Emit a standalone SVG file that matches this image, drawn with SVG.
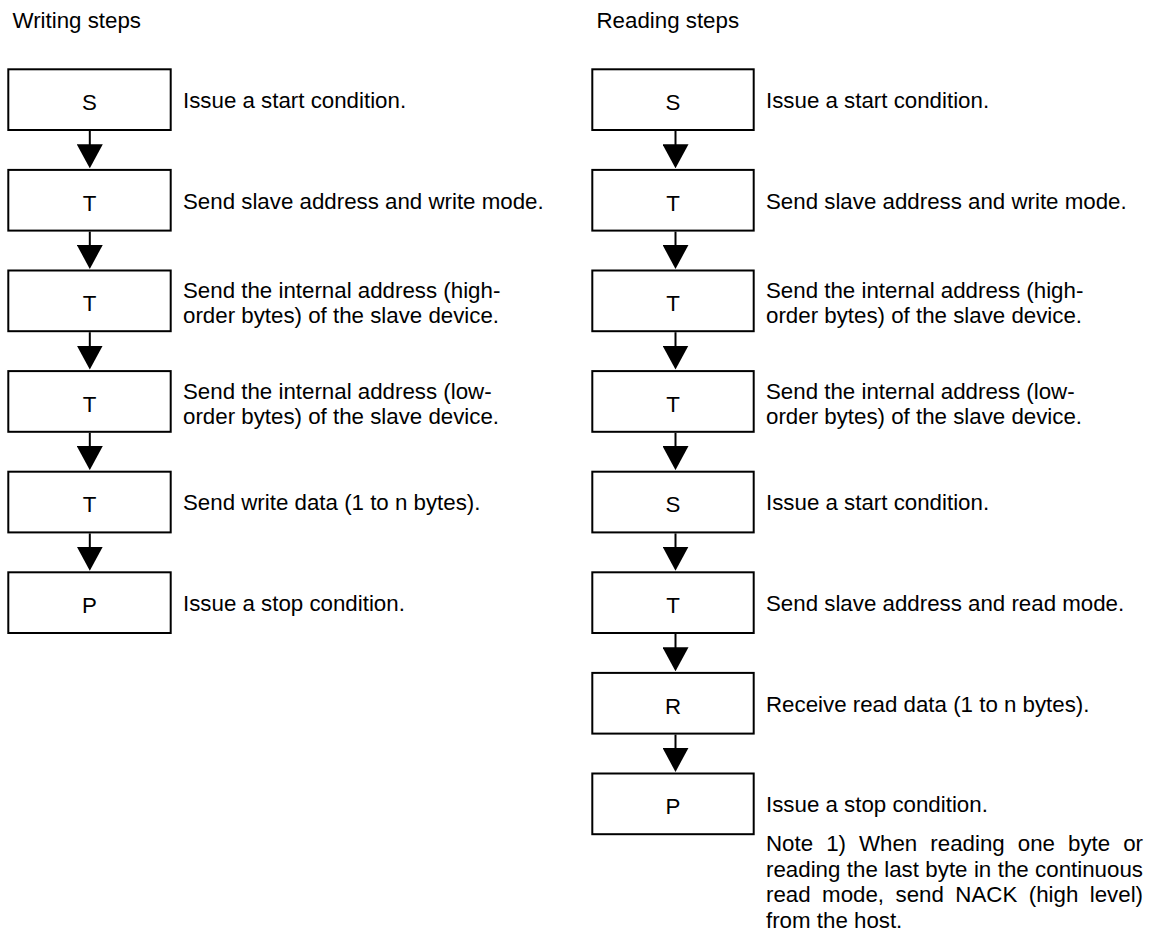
<svg xmlns="http://www.w3.org/2000/svg" width="1170" height="940" viewBox="0 0 1170 940">
  <style>
    text { font-family: "Liberation Sans", Arial, sans-serif; fill: #000; font-size: 22.3px; }
    .step { text-anchor: middle; }
    .box { fill: #fff; stroke: #000; stroke-width: 2; }
    .flow { stroke: #000; stroke-width: 2; fill: none; marker-end: url(#head); }
  </style>
  <defs>
    <marker id="head" markerUnits="userSpaceOnUse" markerWidth="26" markerHeight="24" viewBox="0 0 26 24" refX="13" refY="21">
      <path d="M0,0 H26 L13,24 Z" fill="#000"/>
    </marker>
  </defs>
  <rect width="1170" height="940" fill="#fff"/>

  <text class="title" x="12.5" y="28">Writing steps</text>
  <text class="title" x="596.5" y="28">Reading steps</text>

  <!-- Writing sequence -->
  <g id="w1"><rect class="box" x="8.3" y="69.3" width="162.4" height="60.7"/><text class="step" x="89.5" y="110">S</text><text class="lbl" x="183" y="108">Issue a start condition.</text></g>
  <g id="w2"><rect class="box" x="8.3" y="169.9" width="162.4" height="60.7"/><text class="step" x="89.5" y="210.6">T</text><text class="lbl" x="183" y="208.6">Send slave address and write mode.</text></g>
  <g id="w3"><rect class="box" x="8.3" y="270.5" width="162.4" height="60.7"/><text class="step" x="89.5" y="311.2">T</text><text class="lbl" x="183" y="298.2">Send the internal address (high-</text><text class="lbl" x="183" y="323.2">order bytes) of the slave device.</text></g>
  <g id="w4"><rect class="box" x="8.3" y="371.1" width="162.4" height="60.7"/><text class="step" x="89.5" y="411.8">T</text><text class="lbl" x="183" y="398.8">Send the internal address (low-</text><text class="lbl" x="183" y="423.8">order bytes) of the slave device.</text></g>
  <g id="w5"><rect class="box" x="8.3" y="471.7" width="162.4" height="60.7"/><text class="step" x="89.5" y="512.4">T</text><text class="lbl" x="183" y="510">Send write data (1 to n bytes).</text></g>
  <g id="w6"><rect class="box" x="8.3" y="572.3" width="162.4" height="60.7"/><text class="step" x="89.5" y="613">P</text><text class="lbl" x="183" y="611">Issue a stop condition.</text></g>

  <!-- Reading sequence -->
  <g id="r1"><rect class="box" x="592.3" y="69.3" width="161.4" height="60.7"/><text class="step" x="673" y="110">S</text><text class="lbl" x="766" y="108">Issue a start condition.</text></g>
  <g id="r2"><rect class="box" x="592.3" y="169.9" width="161.4" height="60.7"/><text class="step" x="673" y="210.6">T</text><text class="lbl" x="766" y="208.6">Send slave address and write mode.</text></g>
  <g id="r3"><rect class="box" x="592.3" y="270.5" width="161.4" height="60.7"/><text class="step" x="673" y="311.2">T</text><text class="lbl" x="766" y="298.2">Send the internal address (high-</text><text class="lbl" x="766" y="323.2">order bytes) of the slave device.</text></g>
  <g id="r4"><rect class="box" x="592.3" y="371.1" width="161.4" height="60.7"/><text class="step" x="673" y="411.8">T</text><text class="lbl" x="766" y="398.8">Send the internal address (low-</text><text class="lbl" x="766" y="423.8">order bytes) of the slave device.</text></g>
  <g id="r5"><rect class="box" x="592.3" y="471.7" width="161.4" height="60.7"/><text class="step" x="673" y="512.4">S</text><text class="lbl" x="766" y="510">Issue a start condition.</text></g>
  <g id="r6"><rect class="box" x="592.3" y="572.3" width="161.4" height="60.7"/><text class="step" x="673" y="613">T</text><text class="lbl" x="766" y="611">Send slave address and read mode.</text></g>
  <g id="r7"><rect class="box" x="592.3" y="672.9" width="161.4" height="60.7"/><text class="step" x="673" y="713.6">R</text><text class="lbl" x="766" y="711.6">Receive read data (1 to n bytes).</text></g>
  <g id="r8"><rect class="box" x="592.3" y="773.5" width="161.4" height="60.7"/><text class="step" x="673" y="814.2">P</text><text class="lbl" x="766" y="812">Issue a stop condition.</text></g>

  <!-- Note, justified across three lines -->
  <g id="note">
    <text class="note" x="766" y="851" word-spacing="6.85">Note 1) When reading one byte or</text>
    <text class="note" x="766" y="876.5" word-spacing="0.23">reading the last byte in the continuous</text>
    <text class="note" x="766" y="902" word-spacing="5.26">read mode, send NACK (high level)</text>
    <text class="note" x="766" y="927.5">from the host.</text>
  </g>

  <!-- Connectors -->
  <g id="connectors">
    <line class="flow" x1="89.8" y1="131" x2="89.8" y2="165.3"/>
    <line class="flow" x1="89.8" y1="231.6" x2="89.8" y2="265.9"/>
    <line class="flow" x1="89.8" y1="332.2" x2="89.8" y2="366.5"/>
    <line class="flow" x1="89.8" y1="432.8" x2="89.8" y2="467.1"/>
    <line class="flow" x1="89.8" y1="533.4" x2="89.8" y2="567.7"/>

    <line class="flow" x1="675.5" y1="131" x2="675.5" y2="165.3"/>
    <line class="flow" x1="675.5" y1="231.6" x2="675.5" y2="265.9"/>
    <line class="flow" x1="675.5" y1="332.2" x2="675.5" y2="366.5"/>
    <line class="flow" x1="675.5" y1="432.8" x2="675.5" y2="467.1"/>
    <line class="flow" x1="675.5" y1="533.4" x2="675.5" y2="567.7"/>
    <line class="flow" x1="675.5" y1="634" x2="675.5" y2="668.3"/>
    <line class="flow" x1="675.5" y1="734.6" x2="675.5" y2="768.9"/>
  </g>
</svg>
